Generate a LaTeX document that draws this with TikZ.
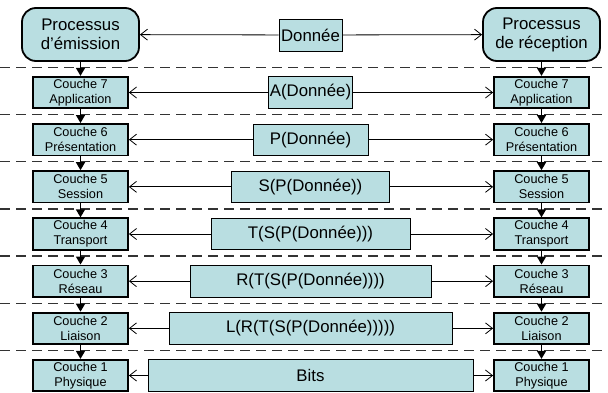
\documentclass[tikz,border=0pt]{standalone}
\usepackage{fontspec}
\setmainfont{Liberation Sans}
\usetikzlibrary{arrows.meta}
\definecolor{boxfill}{RGB}{185,222,225}
\tikzset{
  procbox/.style={draw=black, line width=1.8pt, fill=boxfill, rounded corners=14pt,
    minimum width=117pt, minimum height=53pt, inner sep=0pt, align=center,
    font=\fontsize{16.8}{19}\selectfont},
  layerbox/.style={draw=black, line width=1.8pt, fill=boxfill,
    minimum width=95pt, minimum height=31.5pt, inner sep=0pt, align=center,
    font=\fontsize{12.7}{15}\selectfont},
  databox/.style={draw=black, line width=0.8pt, fill=boxfill,
    minimum height=31.5pt, inner sep=0pt, align=center,
    font=\fontsize{16.8}{19}\selectfont},
  sepline/.style={draw=black!80, line width=1.3pt, dash pattern=on 10pt off 6pt},
  downarrow/.style={line width=1.5pt, -{Triangle[length=8pt,width=9pt]}},
  peerarrow/.style={line width=0.8pt, -{Straight Barb[length=7pt,width=11pt]}}
}
\begin{document}
\begin{tikzpicture}[x=1pt,y=-1pt]
\useasboundingbox (0,0) rectangle (608,393);
\fill[white] (0,0) rectangle (608,393);
% separators
\foreach \k in {0,...,6} {
  \coordinate (sl\k) at (0,{67.4+\k*47.17});
  \coordinate (sr\k) at (608,{67.4+\k*47.17});
  \draw[sepline] (sl\k) -- (sr\k);
}
% process boxes
\node[procbox] (pe) at (80.5,34.5) {Processus\\d’émission};
\node[procbox] (pr) at (541.5,34.5) {Processus\\de réception};
\node[databox, minimum width=63pt, minimum height=32pt] (d0) at (310.5,35) {Donnée};
% layers
\foreach \n/\name/\w/\lab in {7/Application/84/A(Donnée),6/Présentation/115/P(Donnée),5/Session/158/S(P(Donnée)),4/Transport/199/T(S(P(Donnée))),3/Réseau/241/R(T(S(P(Donnée)))),2/Liaison/283/L(R(T(S(P(Donnée))))),1/Physique/325/Bits} {
  \node[layerbox] (l\n) at (80.5,{92.5+(7-\n)*47.17}) {Couche \n\\\name};
  \node[layerbox] (r\n) at (541.5,{92.5+(7-\n)*47.17}) {Couche \n\\\name};
  \node[databox, minimum width=\w pt] (d\n) at (310.5,{92.5+(7-\n)*47.17}) {\lab};
}
% peer arrows
\draw[peerarrow] (d0) -- (pe);
\draw[peerarrow] (d0) -- (pr);
\foreach \n in {1,...,7} {
  \draw[peerarrow] (d\n) -- (l\n);
  \draw[peerarrow] (d\n) -- (r\n);
}
% vertical arrows
\draw[downarrow] (pe) -- (l7);
\draw[downarrow] (pr) -- (r7);
\foreach \a/\b in {7/6,6/5,5/4,4/3,3/2,2/1} {
  \draw[downarrow] (l\a) -- (l\b);
  \draw[downarrow] (r\a) -- (r\b);
}
\end{tikzpicture}
\end{document}
